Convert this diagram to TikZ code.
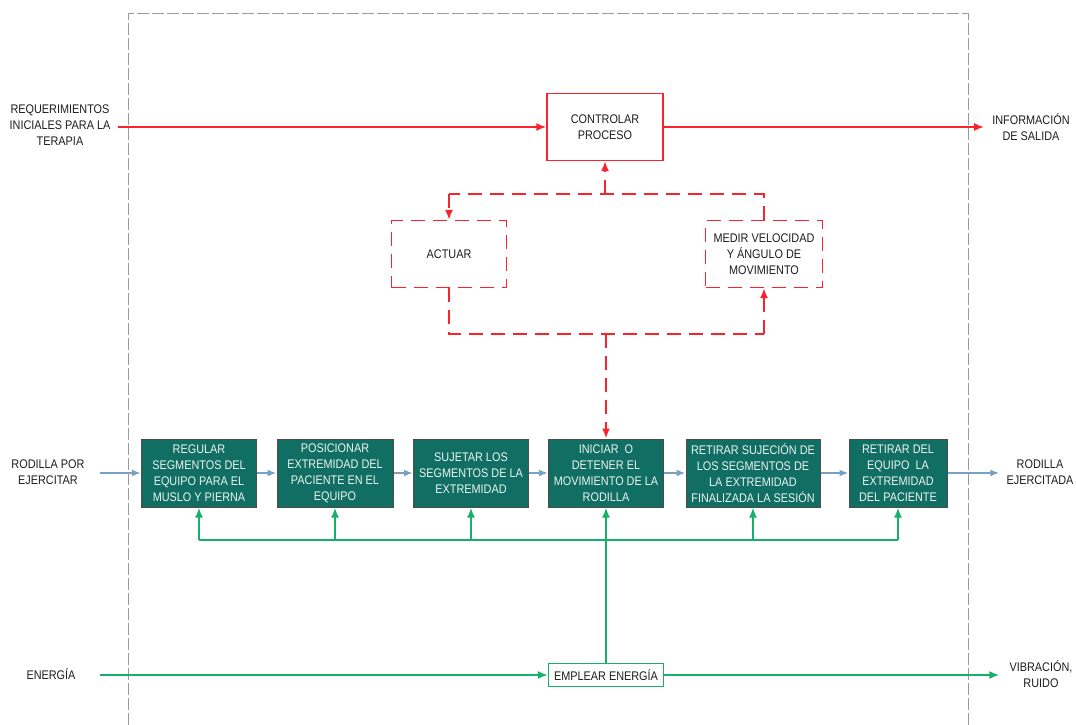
\documentclass[tikz,border=0pt]{standalone}
\usepackage{fontspec}
\setmainfont{Liberation Sans}[FakeStretch=0.87]
\usetikzlibrary{arrows.meta}
\definecolor{rline}{RGB}{250,35,45}
\definecolor{teal1}{RGB}{16,110,98}
\definecolor{gline}{RGB}{22,176,104}
\definecolor{bline}{RGB}{120,160,195}
\definecolor{txt}{RGB}{30,30,30}
\begin{document}
\begin{tikzpicture}[x=1pt,y=-1pt,
  every node/.style={font=\fontsize{12.5}{16}\selectfont, text=txt, align=center, inner sep=0pt},
  redbox/.style={draw=rline, line width=1.2pt, fill=white, minimum height=67pt},
  reddbox/.style={redbox, dash pattern=on 14pt off 8pt},
  tealbox/.style={draw=black!70, line width=1pt, fill=teal1, text=white!92!teal1, minimum height=68pt},
  grbox/.style={draw=gline, line width=1.2pt, fill=white, minimum height=23pt},
  rarr/.style={draw=rline, line width=2pt, -{Latex[length=10pt,width=8pt]}},
  rd/.style={draw=rline, line width=2pt, dash pattern=on 14pt off 8pt},
  rdarr/.style={rd, -{Latex[length=10pt,width=8pt]}},
  barr/.style={draw=bline, line width=2pt, -{Latex[length=9pt,width=7pt]}},
  garr/.style={draw=gline, line width=2pt, -{Latex[length=10pt,width=8pt]}},
  gl/.style={draw=gline, line width=2pt},
  border/.style={draw=black!40, line width=1pt, dash pattern=on 12pt off 3pt}
]
\useasboundingbox (0,0) rectangle (1076,725);
\fill[white] (0,0) rectangle (1076,725);
\draw[border] (128,725) -- (128,14) -- (968,14) -- (968,725);

% nodes
\node (req) at (60,125) {REQUERIMIENTOS\\INICIALES PARA LA\\TERAPIA};
\node[redbox, minimum width=116pt] (ctrl) at (605,127) {CONTROLAR\\PROCESO};
\node (info) at (1031,127) {INFORMACIÓN\\DE SALIDA};
\node[reddbox, minimum width=115pt] (act) at (449,254) {ACTUAR};
\node[reddbox, minimum width=117pt] (med) at (764,254) {MEDIR VELOCIDAD\\Y ÁNGULO DE\\MOVIMIENTO};

\node (rin) at (48,472) {RODILLA POR\\EJERCITAR};
\node[tealbox, minimum width=115pt] (b1) at (199,473) {REGULAR\\SEGMENTOS DEL\\EQUIPO PARA EL\\MUSLO Y PIERNA};
\node[tealbox, minimum width=116pt] (b2) at (335,473) {POSICIONAR\\EXTREMIDAD DEL\\PACIENTE EN EL\\EQUIPO};
\node[tealbox, minimum width=115pt] (b3) at (471,473) {SUJETAR LOS\\SEGMENTOS DE LA\\EXTREMIDAD};
\node[tealbox, minimum width=115pt] (b4) at (606,473) {INICIAR\ \ O\\DETENER EL\\MOVIMIENTO DE LA\\RODILLA};
\node[tealbox, minimum width=134pt] (b5) at (753,473) {RETIRAR SUJECIÓN DE\\LOS SEGMENTOS DE\\LA EXTREMIDAD\\FINALIZADA LA SESIÓN};
\node[tealbox, minimum width=98pt] (b6) at (898,473) {RETIRAR DEL\\EQUIPO\ \ LA\\EXTREMIDAD\\DEL PACIENTE};
\node (rout) at (1040,472) {RODILLA\\EJERCITADA};

\node (ener) at (51,674) {ENERGÍA};
\node[grbox, minimum width=115pt] (emp) at (606,675) {EMPLEAR ENERGÍA};
\node (vib) at (1041,674) {VIBRACIÓN,\\RUIDO};

% coordinates
\coordinate (tl) at (449,194);
\coordinate (tm) at (605,194);
\coordinate (br) at (764,334);
\coordinate (bm) at (606,334);
\coordinate (bus) at (0,540);
\coordinate (rs) at (118,127);
\coordinate (es) at (100,675);
\coordinate (is) at (100,473);

% red control loop
\draw[rarr] (rs) -- (ctrl.west);
\draw[rarr] (ctrl.east) -- ([xshift=-8pt]info.west |- ctrl.east);
\draw[rd] (med.north) |- (tl);
\draw[rdarr] (tl) -- (act.north);
\draw[rdarr] (tm) -- (ctrl.south);
\draw[rd] (act.south) |- (br);
\draw[rdarr] (br) -- (med.south);
\draw[rdarr] (bm) -- (b4.north);

% blue process flow
\draw[barr] (is) -- (b1.west);
\draw[barr] (b1) -- (b2);
\draw[barr] (b2) -- (b3);
\draw[barr] (b3) -- (b4);
\draw[barr] (b4) -- (b5);
\draw[barr] (b5) -- (b6);
\draw[barr] (b6.east) -- ([xshift=-7pt]rout.west |- b6.east);

% green energy
\draw[garr] (es) -- (emp.west);
\draw[garr] (emp.east) -- ([xshift=-10pt]vib.west |- emp.east);
\draw[garr] (emp.north) -- (b4.south);
\draw[gl] (b1.south |- bus) -- (b6.south |- bus);
\draw[garr] (b1.south |- bus) -- (b1.south);
\draw[garr] (b2.south |- bus) -- (b2.south);
\draw[garr] (b3.south |- bus) -- (b3.south);
\draw[garr] (b5.south |- bus) -- (b5.south);
\draw[garr] (b6.south |- bus) -- (b6.south);
\end{tikzpicture}
\end{document}
